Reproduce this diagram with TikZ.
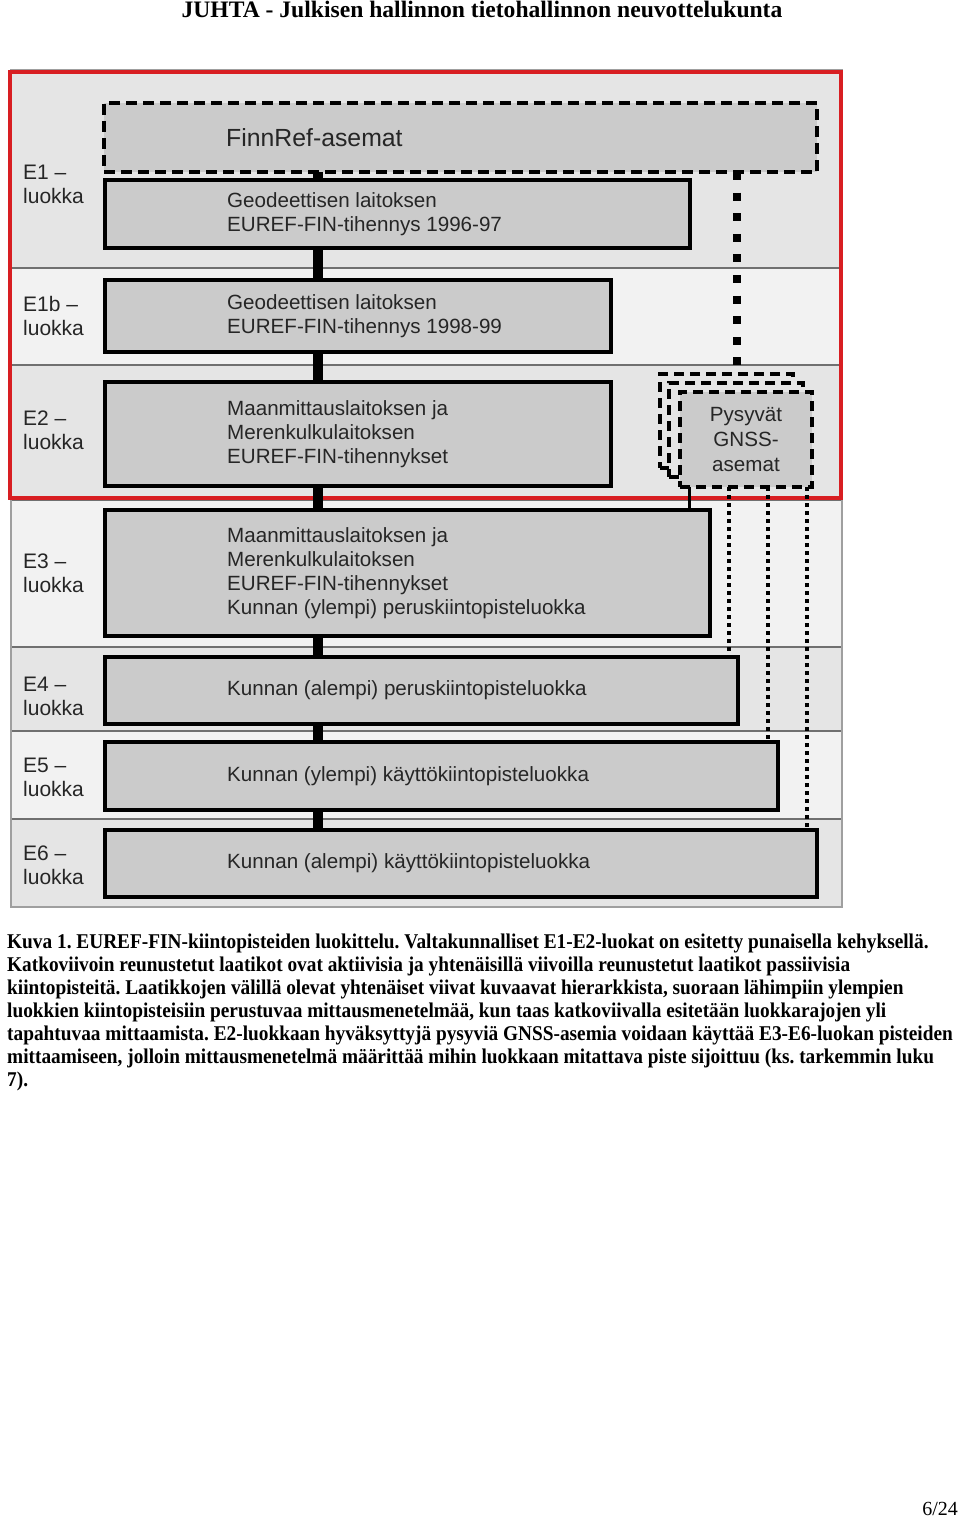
\documentclass[tikz,border=0pt]{standalone}
\usepackage{fontspec}
\setmainfont{Liberation Serif}
\setsansfont{Liberation Sans}
\newfontfamily\capfont[FakeStretch=0.92]{Liberation Serif}
\usepackage{tikz}
\usetikzlibrary{positioning,calc}
\definecolor{banddark}{HTML}{E5E5E5}
\definecolor{bandlight}{HTML}{F2F2F2}
\definecolor{boxgray}{HTML}{CBCBCB}
\definecolor{framered}{HTML}{D81E22}
\definecolor{linegray}{HTML}{707070}
\definecolor{textgray}{HTML}{262626}
\frenchspacing

\begin{document}
\begin{tikzpicture}[
  x=1pt, y=-1pt,
  font=\sffamily,
  pbox/.style={draw=black, line width=3.5pt, fill=boxgray, anchor=north west, inner sep=0pt, outer sep=0pt},
  abox/.style={pbox, dash pattern=on 11pt off 6pt},
  boxtext/.style={anchor=west, align=left, inner sep=0pt, text=textgray, font=\sffamily\fontsize{20.6}{24.2}\selectfont},
  classlbl/.style={anchor=west, align=left, inner sep=0pt, text=textgray, font=\sffamily\fontsize{21}{24}\selectfont},
  bandline/.style={draw=linegray, line width=1.3pt},
  hier/.style={draw=black, line width=10pt},
  cross/.style={draw=black, line width=8pt, dash pattern=on 8pt off 12.6pt},
  thinlink/.style={draw=black, line width=3pt},
  dotlink/.style={draw=black, line width=3.5pt, dash pattern=on 3.5pt off 4.5pt}
]
\useasboundingbox[fill=white] (0,0) rectangle (960,1517);

% ---------- page header ----------
\node[anchor=base, inner sep=0pt, font=\rmfamily\bfseries\fontsize{23.6}{26}\selectfont] (head) at (482,18) {JUHTA - Julkisen hallinnon tietohallinnon neuvottelukunta};

% ---------- class bands ----------
\fill[banddark]  (11,70)  rectangle (842,268);
\fill[bandlight] (11,268) rectangle (842,365);
\fill[banddark]  (11,365) rectangle (842,500);
\fill[bandlight] (11,500) rectangle (842,647);
\fill[banddark]  (11,647) rectangle (842,731);
\fill[bandlight] (11,731) rectangle (842,819);
\fill[banddark]  (11,819) rectangle (842,907);
\draw[bandline] (11,268) -- (842,268);
\draw[bandline] (11,365) -- (842,365);
\draw[bandline] (11,500) -- (842,500);
\draw[bandline] (11,647) -- (842,647);
\draw[bandline] (11,731) -- (842,731);
\draw[bandline] (11,819) -- (842,819);
\draw[draw=gray!75, line width=2pt] (11,70) rectangle (842,907);
% national classes E1-E2
\draw[draw=framered, line width=4pt] (10,72) rectangle (841,498);

% ---------- class labels ----------
\node[classlbl] (lbl1)  at (23,184) {E1 –\\luokka};
\node[classlbl] (lbl1b) at (23,316) {E1b –\\luokka};
\node[classlbl] (lbl2)  at (23,430) {E2 –\\luokka};
\node[classlbl] (lbl3)  at (23,573) {E3 –\\luokka};
\node[classlbl] (lbl4)  at (23,696) {E4 –\\luokka};
\node[classlbl] (lbl5)  at (23,777) {E5 –\\luokka};
\node[classlbl] (lbl6)  at (23,865) {E6 –\\luokka};

% ---------- point boxes ----------
\node[abox, minimum width=713pt, minimum height=69pt] (finnref) at (104,103) {};
\node[pbox, minimum width=585pt, minimum height=68pt] (e1)  at (105,180) {};
\node[pbox, minimum width=506pt, minimum height=72pt] (e1b) at (105,280) {};
\node[pbox, minimum width=506pt, minimum height=104pt] (e2) at (105,382) {};
\node[pbox, minimum width=605pt, minimum height=126pt] (e3) at (105,510) {};
\node[pbox, minimum width=633pt, minimum height=67pt] (e4)  at (105,657) {};
\node[pbox, minimum width=673pt, minimum height=68pt] (e5)  at (105,742) {};
\node[pbox, minimum width=712pt, minimum height=67pt] (e6)  at (105,830) {};

\node[boxtext, font=\sffamily\fontsize{24.8}{28}\selectfont] (finnreft) at ($(finnref.west)+(122,0)$) {FinnRef-asemat};
\node[boxtext] (e1t)  at ($(e1.west)+(122,0)$)  {Geodeettisen laitoksen\\EUREF-FIN-tihennys 1996-97};
\node[boxtext] (e1bt) at ($(e1b.west)+(122,0)$) {Geodeettisen laitoksen\\EUREF-FIN-tihennys 1998-99};
\node[boxtext] (e2t)  at ($(e2.west)+(122,0)$)  {Maanmittauslaitoksen ja\\Merenkulkulaitoksen\\EUREF-FIN-tihennykset};
\node[boxtext] (e3t)  at ($(e3.west)+(122,0)$)  {Maanmittauslaitoksen ja\\Merenkulkulaitoksen\\EUREF-FIN-tihennykset\\Kunnan (ylempi) peruskiintopisteluokka};
\node[boxtext] (e4t)  at ($(e4.west)+(122,0)$)  {Kunnan (alempi) peruskiintopisteluokka};
\node[boxtext] (e5t)  at ($(e5.west)+(122,0)$)  {Kunnan (ylempi) käyttökiintopisteluokka};
\node[boxtext] (e6t)  at ($(e6.west)+(122,0)$)  {Kunnan (alempi) käyttökiintopisteluokka};

% ---------- permanent GNSS stations (stacked) ----------
\node[abox, fill=banddark, dash pattern=on 10pt off 6pt, minimum width=133pt, minimum height=94pt] (gnss3) at (660,374) {};
\node[abox, fill=banddark, dash pattern=on 10pt off 6pt, minimum width=134pt, minimum height=94pt] (gnss2) at (669,383) {};
\node[abox, dash pattern=on 10pt off 6pt, minimum width=132pt, minimum height=95pt, align=center, text=textgray, font=\sffamily\fontsize{20.6}{25}\selectfont] (gnss) at (680,392) {Pysyvät\\GNSS-\\asemat};

% ---------- hierarchy (solid spine) ----------
\coordinate (spine) at (318,0);
\draw[hier] (finnref.south -| spine) -- (e1.north -| spine);
\draw[hier] (e1.south -| spine) -- (e1b.north -| spine);
\draw[hier] (e1b.south -| spine) -- (e2.north -| spine);
\draw[hier] (e2.south -| spine) -- (e3.north -| spine);
\draw[hier] (e3.south -| spine) -- (e4.north -| spine);
\draw[hier] (e4.south -| spine) -- (e5.north -| spine);
\draw[hier] (e5.south -| spine) -- (e6.north -| spine);

% ---------- across class borders ----------
\coordinate (crossx) at (737,0);
\draw[cross] (finnref.south -| crossx) -- (gnss3.north -| crossx);
\coordinate (gx3) at (689,0);
\coordinate (gx4) at (729,0);
\coordinate (gx5) at (768,0);
\coordinate (gx6) at (807,0);
\draw[thinlink] (gnss.south -| gx3) -- (e3.north -| gx3);
\draw[dotlink] (gnss.south -| gx4) -- (e4.north -| gx4);
\draw[dotlink] (gnss.south -| gx5) -- (e5.north -| gx5);
\draw[dotlink] (gnss.south -| gx6) -- (e6.north -| gx6);

% ---------- caption ----------
\node[anchor=north west, align=left, inner sep=0pt, font=\capfont\bfseries\fontsize{21}{23}\selectfont] (caption) at (7,934) {Kuva 1. EUREF-FIN-kiintopisteiden luokittelu. Valtakunnalliset E1-E2-luokat on esitetty punaisella kehyksellä.\\
Katkoviivoin reunustetut laatikot ovat aktiivisia ja yhtenäisillä viivoilla reunustetut laatikot passiivisia\\
kiintopisteitä. Laatikkojen välillä olevat yhtenäiset viivat kuvaavat hierarkkista, suoraan lähimpiin ylempien\\
luokkien kiintopisteisiin perustuvaa mittausmenetelmää, kun taas katkoviivalla esitetään luokkarajojen yli\\
tapahtuvaa mittaamista. E2-luokkaan hyväksyttyjä pysyviä GNSS-asemia voidaan käyttää E3-E6-luokan pisteiden\\
mittaamiseen, jolloin mittausmenetelmä määrittää mihin luokkaan mitattava piste sijoittuu (ks. tarkemmin luku\\
7).};

% ---------- page number ----------
\node[anchor=base east, inner sep=0pt, font=\rmfamily\fontsize{20}{22}\selectfont] (pageno) at (958,1515) {6/24};
\end{tikzpicture}
\end{document}
